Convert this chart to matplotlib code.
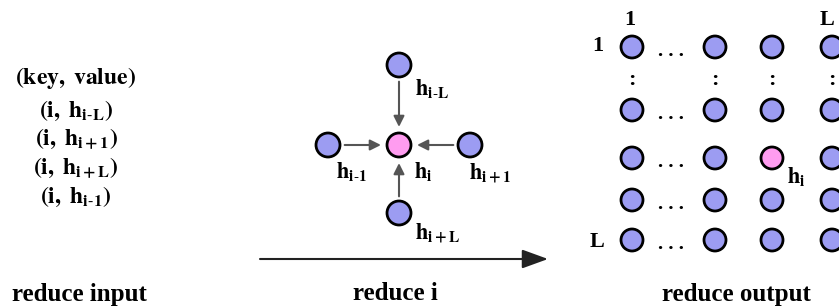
import matplotlib.pyplot as plt
from matplotlib.patches import Circle, FancyArrowPatch

plt.rcParams['font.family'] = 'Liberation Serif'
plt.rcParams['mathtext.fontset'] = 'stix'

# texts
input_lines = [r'$\mathbf{(key,\ value)}$', r'$\mathbf{(i,\ h_{i\text{-}L})}$',
               r'$\mathbf{(i,\ h_{i+1})}$', r'$\mathbf{(i,\ h_{i+L})}$',
               r'$\mathbf{(i,\ h_{i\text{-}1})}$']
input_y = [78, 111, 139, 168, 197]
stage_names = ['reduce input', 'reduce i', 'reduce output']
stage_x = [79, 395, 736]

# neighbours of node i: (name, x, y, label x, label y)
neighbours = [
    (r'$\mathbf{h_{i\text{-}L}}$', 399, 65, 432, 89),
    (r'$\mathbf{h_{i\text{-}1}}$', 328, 145, 352, 172),
    (r'$\mathbf{h_{i+1}}$', 470, 145, 490, 173),
    (r'$\mathbf{h_{i+L}}$', 399, 213, 438, 233),
]
centre = (399, 145)

# output grid
grid_cols = [632, 715, 772, 832]
grid_rows = [47, 110, 158, 200, 240]
pink_cell = (2, 2)

blue = '#9c9cf2'
pink = '#ff9cf0'

fig = plt.figure(figsize=(8.39, 3.07), dpi=100)
ax = fig.add_axes([0, 0, 1, 1])
ax.set_xlim(0, 839)
ax.set_ylim(307, 0)
ax.axis('off')

def node(x, y, c, r=11):
    ax.add_patch(Circle((x, y), r, facecolor=c, edgecolor='black', lw=2, zorder=3))

# left column
for s, y in zip(input_lines, input_y):
    ax.text(76, y, s, ha='center', va='center', fontsize=17)

# centre star
node(*centre, pink, 12)
ax.text(423, 172, r'$\mathbf{h_i}$', ha='center', va='center', fontsize=16)
for name, x, y, lx, ly in neighbours:
    node(x, y, blue, 12)
    ax.add_patch(FancyArrowPatch((x, y), centre, arrowstyle='-|>', mutation_scale=16,
                                 color='#555555', lw=1.5, shrinkA=12, shrinkB=13, zorder=2))
    ax.text(lx, ly, name, ha='center', va='center', fontsize=16)

# long arrow
ax.add_patch(FancyArrowPatch((260, 259), (548, 259),
                             arrowstyle='-|>,head_length=0.55,head_width=0.2',
                             mutation_scale=29, color='#222222', lw=1.5, shrinkA=0, shrinkB=0))

# grid
for j, y in enumerate(grid_rows):
    for i, x in enumerate(grid_cols):
        c = pink if (j, i) == pink_cell else blue
        node(x, y, c)
    ax.text(671, y + 4, '. . .', ha='center', va='center', fontsize=15, fontweight='bold')
for x in grid_cols:
    ax.text(x, 80, ':', ha='center', va='center', fontsize=16, fontweight='bold')
ax.text(630, 20, '1', ha='center', va='center', fontsize=16, fontweight='bold')
ax.text(827, 20, 'L', ha='center', va='center', fontsize=16, fontweight='bold')
ax.text(598, 46, '1', ha='center', va='center', fontsize=16, fontweight='bold')
ax.text(597, 242, 'L', ha='center', va='center', fontsize=16, fontweight='bold')
ax.text(796, 177, r'$\mathbf{h_i}$', ha='center', va='center', fontsize=16)

# stage names
for s, x in zip(stage_names, stage_x):
    ax.text(x, 294, s, ha='center', va='center', fontsize=18, fontweight='bold')

fig.savefig('out.png', dpi=100)
